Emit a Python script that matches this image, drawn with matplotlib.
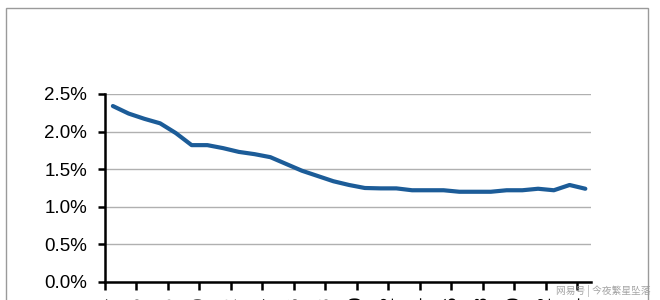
import matplotlib
matplotlib.use("Agg")
import matplotlib.pyplot as plt
from matplotlib.patches import Rectangle
from matplotlib.ticker import FuncFormatter, FixedLocator
import numpy as np

# Data (percent), one value per category
values = [2.34, 2.24, 2.17, 2.11, 1.98, 1.82, 1.82, 1.78, 1.73, 1.70,
          1.66, 1.57, 1.48, 1.41, 1.34, 1.29, 1.25, 1.245, 1.245, 1.22,
          1.22, 1.22, 1.20, 1.20, 1.20, 1.22, 1.22, 1.24, 1.22, 1.29, 1.24]
tick_labels = [str(y) for y in range(1984, 2016, 2)]
y_ticks = [0.0, 0.5, 1.0, 1.5, 2.0, 2.5]

plt.rcParams['font.family'] = ['Liberation Sans', 'DejaVu Sans']

fig = plt.figure(figsize=(6.6, 3.0), dpi=100)
fig.patch.set_facecolor('white')

# outer frame
fig.patches.append(Rectangle((6 / 660, -0.2), 642 / 660, 1.2 - 7.6 / 300,
                             transform=fig.transFigure, fill=False,
                             edgecolor='#9a9a9a', linewidth=1.0, zorder=0))

ax = fig.add_axes([105 / 660, 1 - 282 / 300, (591 - 105) / 660, (282 - 94) / 300])

x = np.arange(len(values))
ax.plot(x, values, color='#1c5c98', linewidth=3.0, solid_capstyle='round',
        solid_joinstyle='round', zorder=3)

ax.set_ylim(0, 2.5)
ax.set_xlim(-0.5, 30.36)
ax.set_yticks(y_ticks)
ax.yaxis.set_major_formatter(FuncFormatter(lambda v, p: f"{v:.1f}%"))
ax.grid(axis='y', color='#b0b0b0', linewidth=1.0, zorder=1)
ax.set_axisbelow(True)

tick_pos = np.arange(-0.5, 30.0, 2)
ax.xaxis.set_major_locator(FixedLocator(tick_pos))
ax.set_xticklabels(tick_labels[:len(tick_pos)], rotation=90, fontsize=13)

for s in ['top', 'right']:
    ax.spines[s].set_visible(False)
for s in ['left', 'bottom']:
    ax.spines[s].set_linewidth(1.8)
    ax.spines[s].set_color('black')

ax.tick_params(axis='y', labelsize=13.5, length=5, width=1.8, pad=8, colors='black')
ax.tick_params(axis='x', length=6, width=1.8, pad=4, colors='black')

# watermark
fig.text(651 / 660, 1 - 291 / 300, "网易号 | 今夜繁星坠落", ha='right', va='center',
         fontsize=7, color='#9a9a9a', family=['Noto Sans CJK SC', 'DejaVu Sans'],
         alpha=0.9)

fig.savefig("out.png", dpi=100, facecolor='white')
